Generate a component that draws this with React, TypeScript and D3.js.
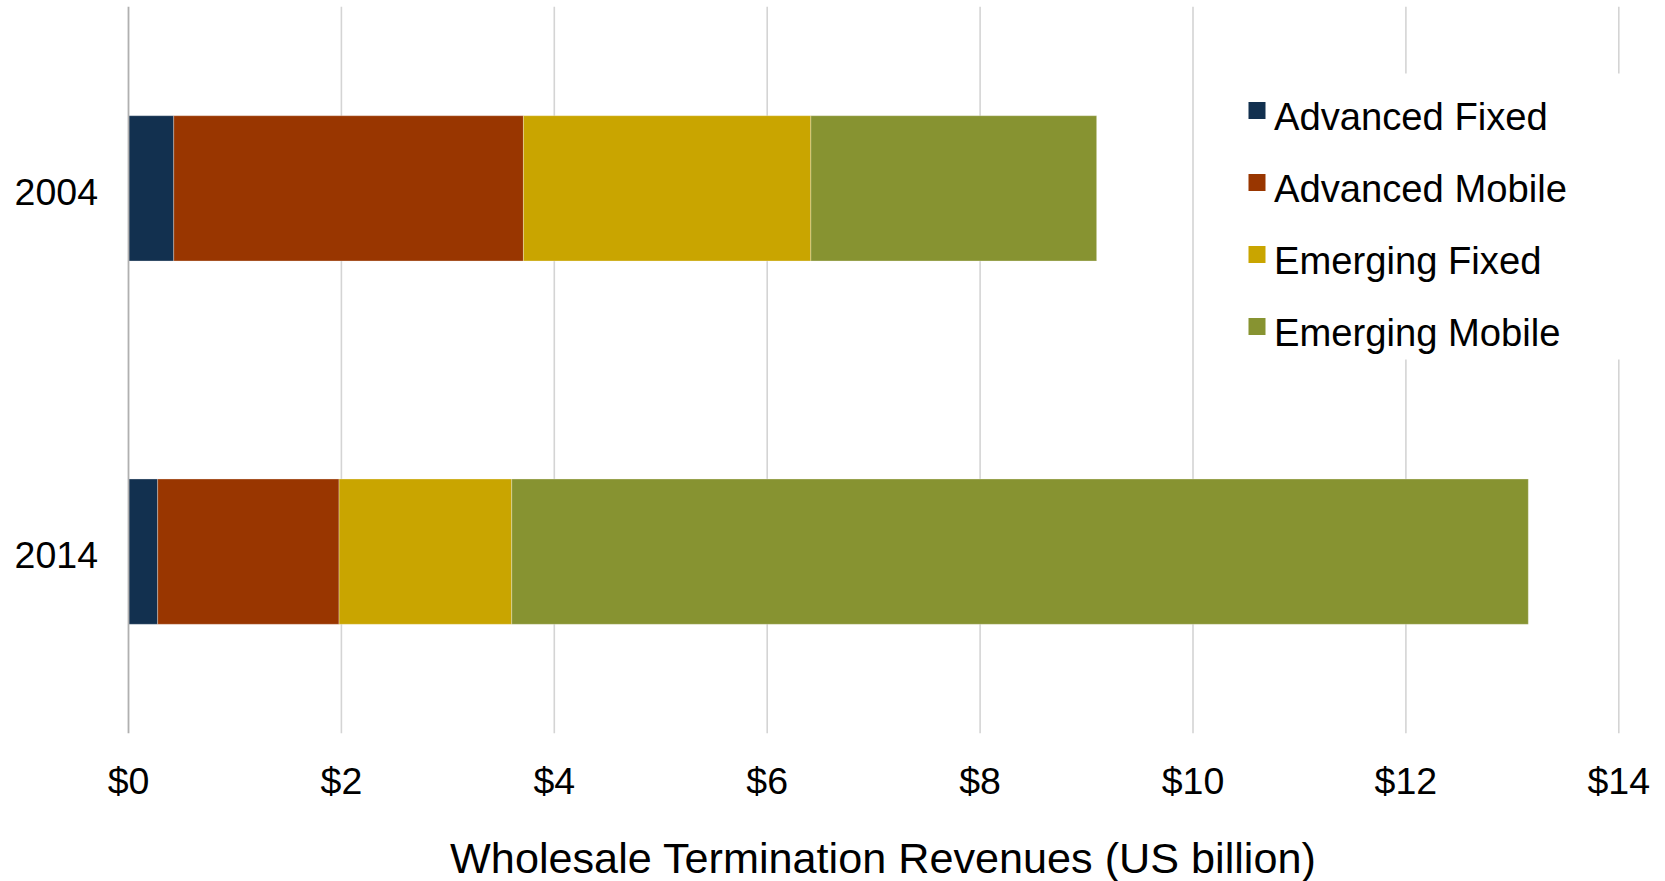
import React from "react";
import * as d3 from "d3";

const years = ["2004", "2014"];
const seriesNames = ["Advanced Fixed", "Advanced Mobile", "Emerging Fixed", "Emerging Mobile"];
const advancedFixed = [0.425, 0.274];
const advancedMobile = [3.285, 1.704];
const emergingFixed = [2.7, 1.622];
const emergingMobile = [2.685, 9.55];
const colors = ["#12304f", "#993600", "#c9a500", "#879331"];
const xTicks = [0, 2, 4, 6, 8, 10, 12, 14];
const xTitle = "Wholesale Termination Revenues (US billion)";

const W = 1665;
const H = 881;
const FONT = "'Liberation Sans', Arial, Helvetica, sans-serif";

export default function App() {
  const left = 128.5;
  const right = 1618.8;
  const top = 6.7;
  const bottom = 733.3;

  const x = d3.scaleLinear().domain([0, 14]).range([left, right]);
  const y = d3
    .scaleBand<string>()
    .domain(years)
    .range([top, bottom])
    .paddingInner(0.6)
    .paddingOuter(0.3);

  const rows = years.map((yr, i) => ({
    year: yr,
    "Advanced Fixed": advancedFixed[i],
    "Advanced Mobile": advancedMobile[i],
    "Emerging Fixed": emergingFixed[i],
    "Emerging Mobile": emergingMobile[i],
  }));
  const stacked = d3.stack<any>().keys(seriesNames)(rows);

  const legendX = 1248.5;
  const legendY0 = 102;
  const legendStep = 72;

  return (
    <svg
      width={W}
      height={H}
      style={{ position: "absolute", left: 0, top: 0, background: "#fff" }}
      fontFamily={FONT}
    >
      <rect x={0} y={0} width={W} height={H} fill="#fff" />
      {xTicks.map((t) =>
        t === 0 ? null : (
          <line
            key={"g" + t}
            x1={x(t)}
            x2={x(t)}
            y1={top}
            y2={bottom}
            stroke="#d4d4d4"
            strokeWidth={1.6}
          />
        )
      )}
      {stacked.map((layer, si) =>
        layer.map((d, i) => (
          <rect
            key={seriesNames[si] + i}
            x={x(d[0])}
            y={y(years[i])!}
            width={x(d[1]) - x(d[0])}
            height={y.bandwidth()}
            fill={colors[si]}
            stroke="rgba(255,255,255,0.3)"
            strokeWidth={1}
          />
        ))
      )}
      <line x1={x(0)} x2={x(0)} y1={top} y2={bottom} stroke="#b0b0b0" strokeWidth={1.8} />
      {xTicks.map((t) => (
        <text
          key={"t" + t}
          x={x(t)}
          y={794}
          textAnchor="middle"
          fontSize={37.5}
          fill="#000"
        >
          {"$" + t}
        </text>
      ))}
      {years.map((yr) => (
        <text
          key={"y" + yr}
          x={98}
          y={y(yr)! + y.bandwidth() / 2 + 16.5}
          textAnchor="end"
          fontSize={37.5}
          fill="#000"
        >
          {yr}
        </text>
      ))}
      <text x={883} y={873} textAnchor="middle" fontSize={43.2} fill="#000">
        {xTitle}
      </text>
      <rect x={1232} y={73.5} width={420} height={286} fill="#fff" />
      {seriesNames.map((name, i) => (
        <g key={"l" + name}>
          <rect
            x={legendX}
            y={legendY0 + i * legendStep}
            width={17}
            height={17}
            fill={colors[i]}
          />
          <text
            x={1274}
            y={legendY0 + i * legendStep + 28}
            fontSize={38.2}
            fill="#000"
          >
            {name}
          </text>
        </g>
      ))}
    </svg>
  );
}
